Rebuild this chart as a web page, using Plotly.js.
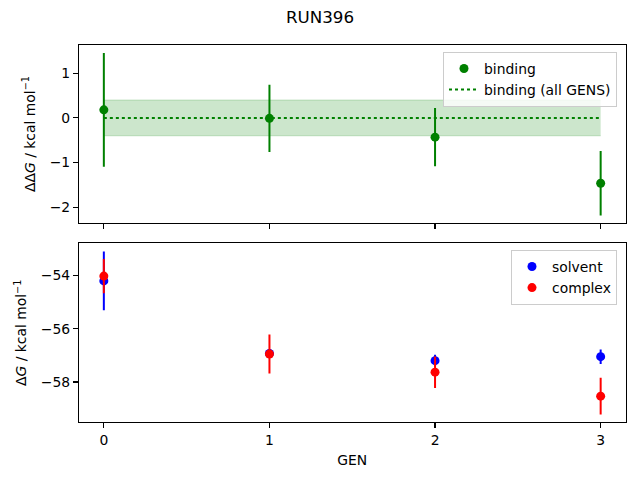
<!DOCTYPE html>
<html>
<head>
<meta charset="utf-8">
<script src="https://cdn.plot.ly/plotly-3.0.1.min.js"></script>
<style>html,body{margin:0;padding:0;background:#fff;}#chart{width:640px;height:480px;}</style>
</head>
<body>
<div id="chart"></div>
<script>
// Data
const gens = [0, 1, 2, 3];
const bindingValues = [0.18, -0.01, -0.43, -1.46];
const bindingErrors = [1.27, 0.75, 0.65, 0.72];
const allGensX = [0, 3];
const allGensValue = 0.0;
const allGensError = 0.40;
const solventValues = [-54.21, -56.93, -57.20, -57.05];
const solventErrors = [1.10, 0.17, 0.22, 0.27];
const complexValues = [-54.03, -56.95, -57.63, -58.53];
const complexErrors = [0.64, 0.73, 0.59, 0.69];
const tickVals = [0, 1, 2, 3];
const tickText = ['0', '1', '2', '3'];

const FONT = 'DejaVu Sans, sans-serif';
const TICK = 13.9;

const traces = [
  // band (all gens)
  {x: allGensX, y: allGensX.map(() => allGensValue - allGensError), xaxis: 'x', yaxis: 'y',
   mode: 'lines', line: {color: 'rgba(0,128,0,0.2)', width: 1}, showlegend: false, hoverinfo: 'skip'},
  {x: allGensX, y: allGensX.map(() => allGensValue + allGensError), xaxis: 'x', yaxis: 'y',
   mode: 'lines', fill: 'tonexty', fillcolor: 'rgba(0,128,0,0.2)',
   line: {color: 'rgba(0,128,0,0.2)', width: 1}, showlegend: false, hoverinfo: 'skip'},
  {x: allGensX, y: allGensX.map(() => allGensValue), xaxis: 'x', yaxis: 'y',
   mode: 'lines', name: 'binding (all GENS)', line: {color: 'green', width: 2, dash: 'dot'},
   legend: 'legend'},
  {x: gens, y: bindingValues, xaxis: 'x', yaxis: 'y', mode: 'markers', name: 'binding',
   marker: {color: 'green', size: 9},
   error_y: {type: 'data', array: bindingErrors, visible: true, color: 'green', thickness: 2, width: 0},
   legend: 'legend'},
  {x: gens, y: solventValues, xaxis: 'x2', yaxis: 'y2', mode: 'markers', name: 'solvent',
   marker: {color: 'blue', size: 9},
   error_y: {type: 'data', array: solventErrors, visible: true, color: 'blue', thickness: 2, width: 0},
   legend: 'legend2'},
  {x: gens, y: complexValues, xaxis: 'x2', yaxis: 'y2', mode: 'markers', name: 'complex',
   marker: {color: 'red', size: 9},
   error_y: {type: 'data', array: complexErrors, visible: true, color: 'red', thickness: 2, width: 0},
   legend: 'legend2'}
];

const axisCommon = {
  showline: true, mirror: true, linecolor: 'black', linewidth: 1.1,
  ticks: 'outside', ticklen: 5, tickwidth: 1.1, tickcolor: 'black',
  showgrid: false, zeroline: false,
  tickfont: {family: FONT, size: TICK, color: 'black'}
};

const legendCommon = {
  bgcolor: 'rgba(255,255,255,0.8)', bordercolor: '#cccccc', borderwidth: 1,
  font: {family: FONT, size: TICK, color: 'black'},
  xref: 'paper', yref: 'paper', xanchor: 'right', yanchor: 'top', tracegroupgap: 0
};

const XDOM = [79/640, 625.5/640];

const layout = {
  width: 640, height: 480,
  margin: {l: 0, r: 0, t: 0, b: 0},
  paper_bgcolor: 'white', plot_bgcolor: 'white',
  font: {family: FONT, color: 'black'},
  title: {text: 'RUN396', x: 0.5, xanchor: 'center', y: 1 - 17/480, yanchor: 'middle',
          font: {family: FONT, size: 16.7, color: 'black'}},
  xaxis: Object.assign({}, axisCommon, {domain: XDOM, range: [-0.15, 3.15],
          anchor: 'y', tickvals: tickVals, ticktext: tickText, showticklabels: false, matches: 'x2'}),
  yaxis: Object.assign({}, axisCommon, {domain: [1 - 223/480, 1 - 45/480], range: [-2.35, 1.63],
          anchor: 'x', dtick: 1,
          title: {text: 'ΔΔ<i>G</i> / kcal mol<sup>−1</sup>', font: {family: FONT, size: TICK, color: 'black'}, standoff: 10}}),
  xaxis2: Object.assign({}, axisCommon, {domain: XDOM, range: [-0.15, 3.15],
          anchor: 'y2', tickvals: tickVals, ticktext: tickText,
          title: {text: 'GEN', font: {family: FONT, size: TICK, color: 'black'}, standoff: 8}}),
  yaxis2: Object.assign({}, axisCommon, {domain: [1 - 422.3/480, 1 - 243.3/480], range: [-59.51, -52.80],
          anchor: 'x2', tickvals: [-54, -56, -58],
          title: {text: 'Δ<i>G</i> / kcal mol<sup>−1</sup>', font: {family: FONT, size: TICK, color: 'black'}, standoff: 10}}),
  legend: Object.assign({}, legendCommon, {x: 617/640, y: 1 - 52/480, traceorder: 'reversed'}),
  legend2: Object.assign({}, legendCommon, {x: 617/640, y: 1 - 250/480}),
  showlegend: true
};

Plotly.newPlot('chart', traces, layout, {displayModeBar: false, staticPlot: true});
</script>
</body>
</html>
